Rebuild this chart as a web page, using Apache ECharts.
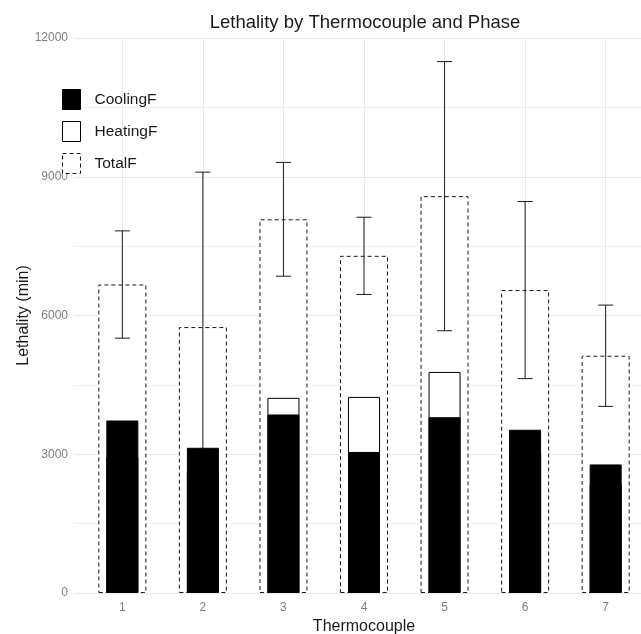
<!DOCTYPE html>
<html>
<head>
<meta charset="utf-8">
<script src="https://cdn.jsdelivr.net/npm/echarts@6/dist/echarts.min.js"></script>
<style>
  html, body { margin: 0; padding: 0; background: #fff; }
  #chart { width: 641px; height: 634px; }
</style>
</head>
<body>
<div id="chart"></div>
<script>
// thermocouple ids and lethality values (min)
const categories = ['1', '2', '3', '4', '5', '6', '7'];
const coolingF = [3730, 3140, 3860, 3050, 3800, 3530, 2780];
const heatingF = [2940, 2610, 4220, 4240, 4780, 3020, 2350];
const totalF = [6670, 5750, 8080, 7290, 8580, 6550, 5130];
const totalSd = [1160, 3350, 1230, 835, 2910, 1915, 1095];
const yTicks = [0, 3000, 6000, 9000, 12000];

const xPos = categories.map((c, i) => i + 1);
const font = 'Liberation Sans, Arial, sans-serif';

const chart = echarts.init(document.getElementById('chart'));

// the panel runs past the right edge of the picture, like the original
function xAxisDef(show) {
  return {
    type: 'value',
    min: 0.4,
    max: 7.6,
    show: show,
    axisLine: {show: false},
    axisTick: {show: false, customValues: xPos},
    axisLabel: {
      show: show,
      customValues: xPos,
      color: '#7f7f7f',
      fontSize: 12,
      fontFamily: font,
      margin: 9,
      formatter: v => categories[Math.round(v) - 1],
    },
    splitLine: {show: show, lineStyle: {color: '#ebebeb', width: 1}},
    name: show ? 'Thermocouple' : '',
    nameLocation: 'middle',
    nameGap: 22,
    nameTextStyle: {color: '#1a1a1a', fontSize: 16, fontFamily: font},
  };
}

chart.setOption({
  backgroundColor: '#fff',
  animation: false,
  title: {
    text: 'Lethality by Thermocouple and Phase',
    left: 360,
    top: 8,
    textAlign: 'center',
    textStyle: {color: '#1a1a1a', fontSize: 18.5, fontWeight: 'normal', fontFamily: font},
  },
  legend: {
    orient: 'vertical',
    left: 62,
    top: 89,
    padding: 0,
    itemWidth: 18,
    itemHeight: 20,
    itemGap: 11,
    icon: 'rect',
    itemStyle: {borderWidth: 1},
    data: [
      {name: 'CoolingF'},
      {name: 'HeatingF'},
      {name: 'TotalF', itemStyle: {borderType: [4, 3], borderWidth: 1}},
    ],
    textStyle: {color: '#1a1a1a', fontSize: 15.5, fontFamily: font, padding: [0, 0, 0, 9]},
  },
  grid: {left: 74, top: 38, width: 580, height: 555, outerBoundsMode: 'none', containLabel: false},
  xAxis: [xAxisDef(true), xAxisDef(false), xAxisDef(false)],
  yAxis: {
    type: 'value',
    min: 0,
    max: 12000,
    interval: 3000,
    axisLine: {show: false},
    axisTick: {show: false},
    axisLabel: {
      color: '#7f7f7f',
      fontSize: 12,
      fontFamily: font,
      margin: 6,
      customValues: yTicks,
      formatter: v => String(v),
    },
    splitLine: {lineStyle: {color: '#ebebeb', width: 1}},
    minorTick: {show: false, splitNumber: 2},
    minorSplitLine: {show: true, lineStyle: {color: '#f0f0f0', width: 1}},
    name: 'Lethality (min)',
    nameLocation: 'middle',
    nameGap: 42,
    nameMoveOverlap: false,
    nameTextStyle: {color: '#1a1a1a', fontSize: 16, fontFamily: font},
  },
  series: [
    {
      name: 'TotalF',
      type: 'bar',
      xAxisIndex: 0,
      barWidth: 48,
      z: 1,
      itemStyle: {color: '#fff', borderColor: '#1a1a1a', borderWidth: 1, borderType: [4, 3]},
      data: xPos.map((x, i) => [x, totalF[i]]),
    },
    {
      name: 'TotalSd',
      type: 'custom',
      xAxisIndex: 0,
      z: 2,
      data: xPos.map((x, i) => [x, totalF[i] - totalSd[i], totalF[i] + totalSd[i]]),
      renderItem: function(params, api) {
        const x = api.value(0);
        const lo = api.coord([x, api.value(1)]);
        const hi = api.coord([x, api.value(2)]);
        const half = 7.5;
        const style = {stroke: '#1a1a1a', lineWidth: 1};
        return {
          type: 'group',
          children: [
            {type: 'line', shape: {x1: hi[0], y1: hi[1], x2: lo[0], y2: lo[1]}, style: style},
            {type: 'line', shape: {x1: hi[0] - half, y1: hi[1], x2: hi[0] + half, y2: hi[1]}, style: style},
            {type: 'line', shape: {x1: lo[0] - half, y1: lo[1], x2: lo[0] + half, y2: lo[1]}, style: style},
          ],
        };
      },
    },
    {
      name: 'HeatingF',
      type: 'bar',
      xAxisIndex: 1,
      barWidth: 32,
      z: 3,
      itemStyle: {color: '#fff', borderColor: '#000', borderWidth: 1},
      data: xPos.map((x, i) => [x, heatingF[i]]),
    },
    {
      name: 'CoolingF',
      type: 'bar',
      xAxisIndex: 2,
      barWidth: 32,
      z: 4,
      itemStyle: {color: '#000', borderColor: '#000', borderWidth: 1},
      data: xPos.map((x, i) => [x, coolingF[i]]),
    },
  ],
});
</script>
</body>
</html>
